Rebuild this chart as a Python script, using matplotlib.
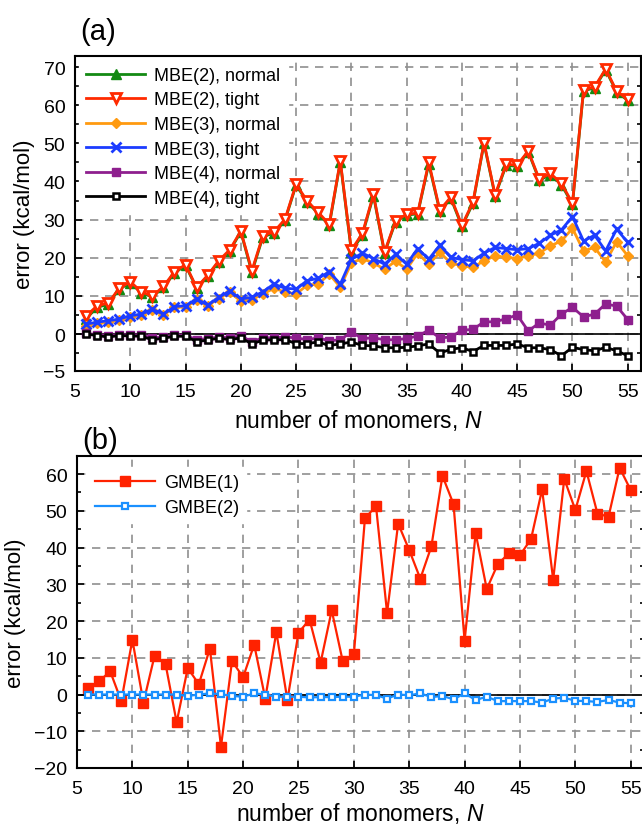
import numpy as np
import matplotlib
matplotlib.use("Agg")
import matplotlib.pyplot as plt
from matplotlib.ticker import MultipleLocator

plt.rcParams['font.family'] = ['Liberation Sans', 'DejaVu Sans']
plt.rcParams['mathtext.fontset'] = 'custom'
plt.rcParams['mathtext.it'] = 'Liberation Sans:italic'
plt.rcParams['mathtext.rm'] = 'Liberation Sans'

# number of monomers
n_mono = np.arange(6, 56)

# panel (a): MBE errors, kcal/mol
mbe2_normal = [4.0, 7.0, 7.8, 11.8, 13.4, 10.8, 9.7, 12.3, 16.0, 18.0,
               12.0, 15.2, 19.0, 21.8, 26.8, 16.2, 25.5, 26.5, 29.8, 39.1,
               34.6, 31.6, 28.5, 45.1, 21.6, 26.0, 36.3, 21.2, 29.5, 31.2,
               31.5, 44.6, 32.2, 35.6, 28.2, 34.3, 50.0, 36.2, 44.2, 44.0,
               47.8, 40.3, 41.8, 39.2, 34.0, 63.8, 64.5, 69.3, 63.4, 61.3]
mbe2_tight = [4.7, 7.4, 8.1, 12.0, 13.7, 11.1, 9.9, 12.5, 16.3, 18.2,
              12.2, 15.4, 19.2, 22.1, 27.0, 16.6, 25.8, 26.8, 30.1, 39.3,
              34.9, 31.9, 28.8, 45.4, 22.0, 26.4, 36.6, 21.5, 29.7, 31.4,
              31.7, 45.0, 32.5, 35.9, 28.5, 34.6, 50.2, 36.5, 44.5, 44.3,
              48.0, 40.6, 42.1, 39.5, 34.3, 64.0, 64.8, 69.5, 63.7, 61.5]
mbe3_normal = [2.2, 2.8, 3.2, 3.6, 4.5, 4.9, 6.2, 5.0, 7.0, 7.1,
               8.8, 7.4, 9.3, 11.0, 8.6, 9.0, 10.5, 12.0, 11.0, 10.5,
               12.8, 13.1, 15.7, 12.3, 18.6, 19.8, 18.6, 17.0, 19.1, 17.0,
               21.2, 18.3, 21.4, 18.6, 17.9, 17.5, 19.2, 20.5, 20.1, 19.8,
               20.5, 21.2, 23.1, 24.4, 27.7, 21.8, 22.7, 18.9, 24.2, 20.5]
mbe3_tight = [2.6, 3.1, 3.5, 3.9, 4.8, 5.2, 6.5, 5.2, 7.2, 7.4,
              9.2, 7.6, 9.6, 11.3, 9.2, 9.6, 11.1, 13.1, 12.0, 11.8,
              14.0, 14.6, 16.3, 13.1, 19.6, 21.2, 19.8, 18.3, 20.9, 18.3,
              22.4, 19.6, 23.3, 20.1, 19.5, 19.2, 21.2, 22.7, 22.4, 22.1,
              22.4, 23.8, 25.9, 27.3, 30.8, 24.4, 25.9, 21.8, 27.5, 24.0]
mbe4_normal = [0.2, -0.2, -0.5, -0.2, -0.3, -0.3, -1.0, -0.8, -0.3, -0.3,
               -1.5, -1.2, -0.8, -1.0, -0.5, -2.0, -1.0, -1.0, -0.8, -1.0,
               -1.5, -1.0, -1.8, -1.5, 0.5, -1.2, -1.0, -1.5, -1.5, -1.2,
               -0.5, 1.0, -1.0, -0.8, 1.0, 1.2, 3.2, 3.2, 4.0, 5.0,
               0.8, 2.9, 2.3, 5.2, 7.0, 4.5, 5.2, 7.9, 7.3, 3.8]
mbe4_tight = [0.0, -0.4, -0.8, -0.4, -0.5, -0.6, -1.5, -1.1, -0.6, -0.6,
              -2.0, -1.6, -1.1, -1.5, -1.0, -2.6, -1.6, -1.5, -1.5, -2.5,
              -2.5, -2.1, -3.0, -2.6, -2.1, -3.0, -3.1, -3.6, -3.6, -3.5,
              -3.1, -2.6, -5.0, -4.0, -3.6, -4.6, -3.0, -3.0, -3.0, -2.6,
              -3.6, -3.6, -4.1, -5.7, -3.5, -4.1, -4.4, -3.5, -4.4, -5.7]

# panel (b): GMBE errors, kcal/mol
gmbe1 = [1.8, 3.6, 6.3, -1.8, 14.9, -2.2, 10.5, 8.2, -7.6, 7.2,
         2.8, 12.5, -14.2, 9.1, 4.7, 13.6, -1.1, 17.0, -1.5, 16.8,
         20.4, 8.7, 22.9, 9.0, 10.9, 47.9, 51.3, 22.2, 46.5, 39.3,
         31.5, 40.3, 59.5, 51.8, 14.6, 43.9, 28.7, 35.5, 38.4, 37.9,
         42.3, 55.8, 31.2, 58.7, 50.2, 60.8, 49.2, 48.4, 61.7, 55.6]
gmbe2 = [0.0, 0.0, 0.0, 0.0, 0.0, 0.0, 0.0, 0.0, 0.0, -0.4,
         0.0, 0.3, 0.1, -0.4, -0.6, 0.3, 0.0, -0.6, -0.6, -0.6,
         -0.8, -0.7, -0.7, -0.6, -0.6, 0.0, -0.2, -1.1, 0.0, -0.2,
         0.3, -0.7, -0.4, -1.3, 0.3, -1.5, -0.6, -1.8, -1.8, -1.8,
         -1.8, -2.2, -1.1, -0.9, -1.7, -1.8, -2.0, -1.5, -2.2, -2.4]

fig = plt.figure(figsize=(6.42, 8.28), dpi=100)
ax1 = fig.add_axes([75 / 642, 1 - 372 / 828, 566 / 642, 315 / 828])
ax2 = fig.add_axes([77 / 642, 1 - 769 / 828, 567 / 642, 312 / 828])

grid_kw = dict(color='#8f8f8f', linestyle=(0, (5, 4)), linewidth=1.2)
leg_kw = dict(loc='upper left', fontsize=13, frameon=True, fancybox=False,
              edgecolor='white', framealpha=1, handlelength=3.3,
              handletextpad=0.5)

# --- (a) ---
ax1.axhline(0, color='black', lw=1.2, zorder=1)
ax1.plot(n_mono, mbe2_normal, color='#138a13', lw=2, marker='^', ms=6.5,
         mfc='#138a13', mec='#138a13', label='MBE(2), normal', zorder=3)
ax1.plot(n_mono, mbe2_tight, color='#ff2a00', lw=2, marker='v', ms=7,
         mfc='white', mec='#ff2a00', mew=2, label='MBE(2), tight', zorder=3)
ax1.plot(n_mono, mbe3_normal, color='#ff9a10', lw=2, marker='D', ms=5,
         mfc='#ff9a10', mec='#ff9a10', label='MBE(3), normal', zorder=3)
ax1.plot(n_mono, mbe3_tight, color='#1c3cff', lw=2, marker='x', ms=6.5,
         mew=2, label='MBE(3), tight', zorder=3)
ax1.plot(n_mono, mbe4_normal, color='#8e1f8e', lw=2, marker='s', ms=5.5,
         mfc='#8e1f8e', mec='#8e1f8e', label='MBE(4), normal', zorder=3)
ax1.plot(n_mono, mbe4_tight, color='black', lw=2, marker='s', ms=5,
         mfc='white', mec='black', mew=1.8, label='MBE(4), tight', zorder=3)

ax1.set_xlim(5, 56.2)
ax1.set_ylim(-9.7, 72.9)
ax1.set_yticks([-9.7, 0, 10, 20, 30, 40, 50, 60, 70])
ax1.set_yticklabels(['\u22125', '0', '10', '20', '30', '40', '50', '60', '70'])
ax1.yaxis.set_minor_locator(MultipleLocator(5))
ax1.set_xticks(range(5, 56, 5))
ax1.grid(True, **grid_kw)
ax1.set_axisbelow(True)
ax1.set_xlabel('number of monomers, $N$', fontsize=16.5, labelpad=5)
ax1.set_ylabel('error (kcal/mol)', fontsize=16, labelpad=6)
ax1.text(0.01, 1.035, '(a)', transform=ax1.transAxes, fontsize=21,
         ha='left', va='bottom')
leg1 = ax1.legend(labelspacing=0.42, borderaxespad=0.2, **leg_kw)
leg1.set_zorder(2.5)

# --- (b) ---
ax2.axhline(0, color='black', lw=1.2, zorder=1)
ax2.plot(n_mono, gmbe1, color='#ff2200', lw=1.6, marker='s', ms=6.5,
         mfc='#ff2200', mec='#ff2200', label='GMBE(1)', zorder=3)
ax2.plot(n_mono, gmbe2, color='#1a90ff', lw=1.6, marker='s', ms=5,
         mfc='white', mec='#1a90ff', mew=1.6, label='GMBE(2)', zorder=3)

ax2.set_xlim(5, 56.2)
ax2.set_ylim(-20, 64.9)
ax2.set_yticks(range(-20, 61, 10))
ax2.set_yticklabels([str(v).replace('-', '\u2212') for v in range(-20, 61, 10)])
ax2.yaxis.set_minor_locator(MultipleLocator(5))
ax2.set_xticks(range(5, 56, 5))
ax2.grid(True, **grid_kw)
ax2.set_axisbelow(True)
ax2.set_xlabel('number of monomers, $N$', fontsize=16.5, labelpad=2)
ax2.set_ylabel('error (kcal/mol)', fontsize=16, labelpad=6)
ax2.text(0.01, 1.005, '(b)', transform=ax2.transAxes, fontsize=21,
         ha='left', va='bottom')
leg2 = ax2.legend(labelspacing=0.45, borderaxespad=0.6, **leg_kw)
leg2.set_zorder(2.5)

for ax in (ax1, ax2):
    ax.tick_params(axis='both', which='both', direction='in', labelsize=14)
    ax.tick_params(axis='y', which='major', length=5, width=1.2, left=True,
                   right=False, pad=7)
    ax.tick_params(axis='y', which='minor', length=3, width=1.2, left=True, right=True)
    ax.tick_params(axis='x', which='major', length=5, width=1.2, top=False, pad=9)
    for sp in ax.spines.values():
        sp.set_linewidth(1.5)

fig.savefig('out.png', dpi=100)
